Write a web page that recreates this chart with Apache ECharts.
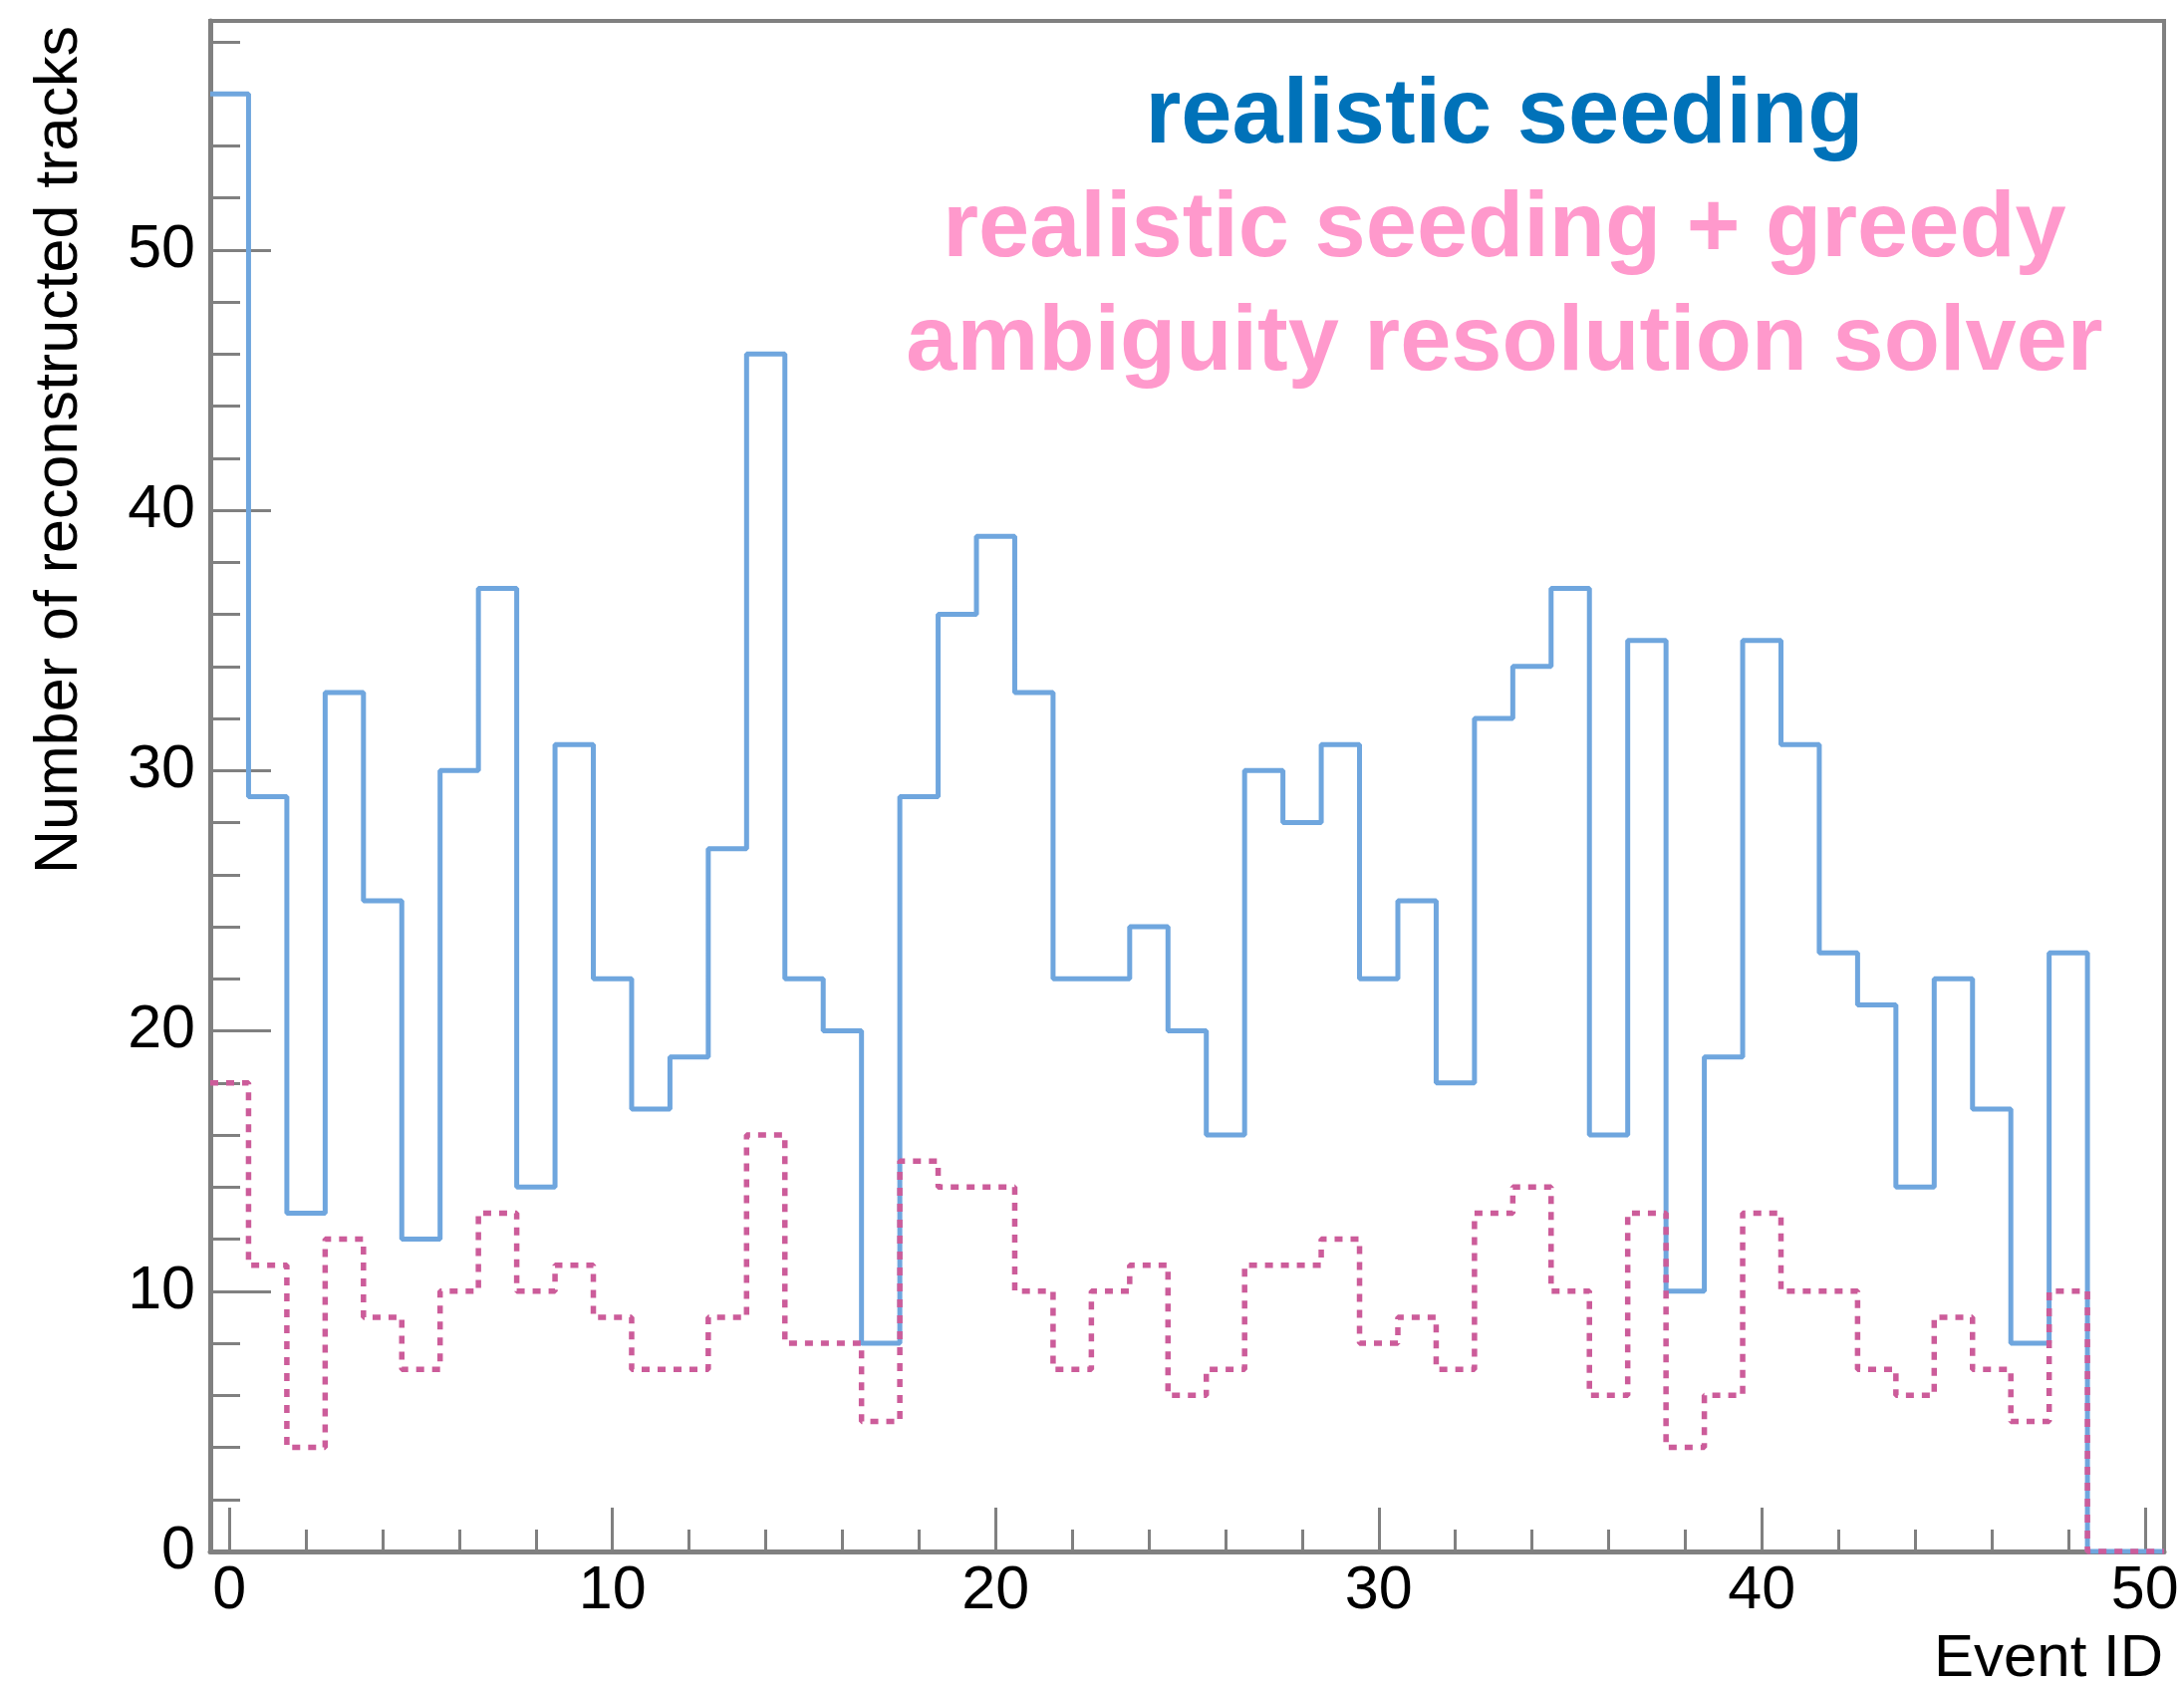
<!DOCTYPE html>
<html>
<head>
<meta charset="utf-8">
<title>Number of reconstructed tracks per event</title>
<script src="https://cdn.jsdelivr.net/npm/echarts@6/dist/echarts.min.js"></script>
<style>
  html, body { margin: 0; padding: 0; background: #fff; }
  #chart { width: 2192px; height: 1691px; }
</style>
</head>
<body>
<div id="chart"></div>
<script>
// event ids (bin centres), one bin per event
const eventIds = [0,1,2,3,4,5,6,7,8,9,10,11,12,13,14,15,16,17,18,19,20,21,22,23,24,25,
  26,27,28,29,30,31,32,33,34,35,36,37,38,39,40,41,42,43,44,45,46,47,48,49,50];
// realistic seeding
const seedingTracks = [56,29,13,33,25,12,30,37,14,31,22,17,19,27,46,22,20,8,29,36,39,33,22,22,24,20,
  16,30,28,31,22,25,18,32,34,37,16,35,10,19,35,31,23,21,14,22,17,8,23,0,0];
// realistic seeding + greedy ambiguity resolution solver
const greedyTracks = [18,11,4,12,9,7,10,13,10,11,9,7,7,9,16,8,8,5,15,14,14,10,7,10,11,6,
  7,11,11,12,8,9,7,13,14,10,6,13,4,6,13,10,10,7,6,9,7,5,10,0,0];

const xMajor = [0,10,20,30,40,50];
const xMinor = [2,4,6,8,12,14,16,18,22,24,26,28,32,34,36,38,42,44,46,48];
const yMajor = [0,10,20,30,40,50];
const yMinor = [2,4,6,8,12,14,16,18,22,24,26,28,32,34,36,38,42,44,46,48,52,54,56,58];

const FONT = '"Liberation Sans", Arial, Helvetica, sans-serif';
const FRAME = '#808080';

// histogram outline: horizontal at each bin's value from its low edge to the next edge
function histSteps(values) {
  const pts = values.map((v, i) => [eventIds[i] - 0.5, v]);
  pts.push([eventIds[eventIds.length - 1] + 0.5, values[values.length - 1]]);
  return pts;
}

const chart = echarts.init(document.getElementById('chart'));

const option = {
  animation: false,
  backgroundColor: '#fff',
  grid: {
    left: 211, right: 20, top: 21, bottom: 134,
    containLabel: false,
    outerBoundsMode: 'none',
    show: true,
    borderColor: FRAME,
    borderWidth: 4,
    backgroundColor: 'transparent'
  },
  xAxis: [{
    type: 'value', min: -0.5, max: 50.5, position: 'bottom',
    axisLine: { show: true, onZero: false, lineStyle: { color: FRAME, width: 5 } },
    axisTick: { show: true, inside: true, length: 44, customValues: xMajor,
      lineStyle: { color: FRAME, width: 3 } },
    axisLabel: { customValues: xMajor, margin: 10, fontSize: 61, color: '#000', fontFamily: FONT },
    splitLine: { show: false }
  }, {
    type: 'value', min: -0.5, max: 50.5, position: 'bottom',
    axisLine: { show: false, onZero: false },
    axisTick: { show: true, inside: true, length: 22, customValues: xMinor,
      lineStyle: { color: FRAME, width: 3 } },
    axisLabel: { show: false },
    splitLine: { show: false }
  }],
  yAxis: [{
    type: 'value', min: 0, max: 58.8, position: 'left',
    axisLine: { show: true, onZero: false, lineStyle: { color: FRAME, width: 5 } },
    axisTick: { show: true, inside: true, length: 61, customValues: yMajor,
      lineStyle: { color: FRAME, width: 3 } },
    axisLabel: { customValues: yMajor, margin: 15, fontSize: 61, color: '#000', fontFamily: FONT },
    splitLine: { show: false }
  }, {
    type: 'value', min: 0, max: 58.8, position: 'left',
    axisLine: { show: false, onZero: false },
    axisTick: { show: true, inside: true, length: 30, customValues: yMinor,
      lineStyle: { color: FRAME, width: 3 } },
    axisLabel: { show: false },
    splitLine: { show: false }
  }],
  series: [{
    name: 'realistic seeding',
    type: 'line',
    step: 'end',
    data: histSteps(seedingTracks),
    showSymbol: false,
    lineStyle: { color: '#6fa6de', width: 5 },
    z: 3
  }, {
    name: 'realistic seeding + greedy ambiguity resolution solver',
    type: 'line',
    step: 'end',
    data: histSteps(greedyTracks),
    showSymbol: false,
    lineStyle: { color: '#cc5c9a', width: 5.5, type: [8, 8] },
    z: 4
  }],
  graphic: [{
    type: 'text', x: 1510, y: 118,
    style: { text: 'realistic seeding', fill: '#0072b9', font: 'bold 92px ' + FONT,
      textAlign: 'center', textVerticalAlign: 'middle' }
  }, {
    type: 'text', x: 1510, y: 232,
    style: { text: 'realistic seeding + greedy', fill: '#ff99cc', font: 'bold 92px ' + FONT,
      textAlign: 'center', textVerticalAlign: 'middle' }
  }, {
    type: 'text', x: 1510, y: 346,
    style: { text: 'ambiguity resolution solver', fill: '#ff99cc', font: 'bold 92px ' + FONT,
      textAlign: 'center', textVerticalAlign: 'middle' }
  }, {
    type: 'text', x: 60, y: 26, rotation: Math.PI / 2,
    style: { text: 'Number of reconstructed tracks', fill: '#000', font: '61px ' + FONT,
      textAlign: 'right', textVerticalAlign: 'middle' }
  }, {
    type: 'text', x: 2171, y: 1665,
    style: { text: 'Event ID', fill: '#000', font: '60px ' + FONT,
      textAlign: 'right', textVerticalAlign: 'middle' }
  }]
};

chart.setOption(option);
</script>
</body>
</html>
